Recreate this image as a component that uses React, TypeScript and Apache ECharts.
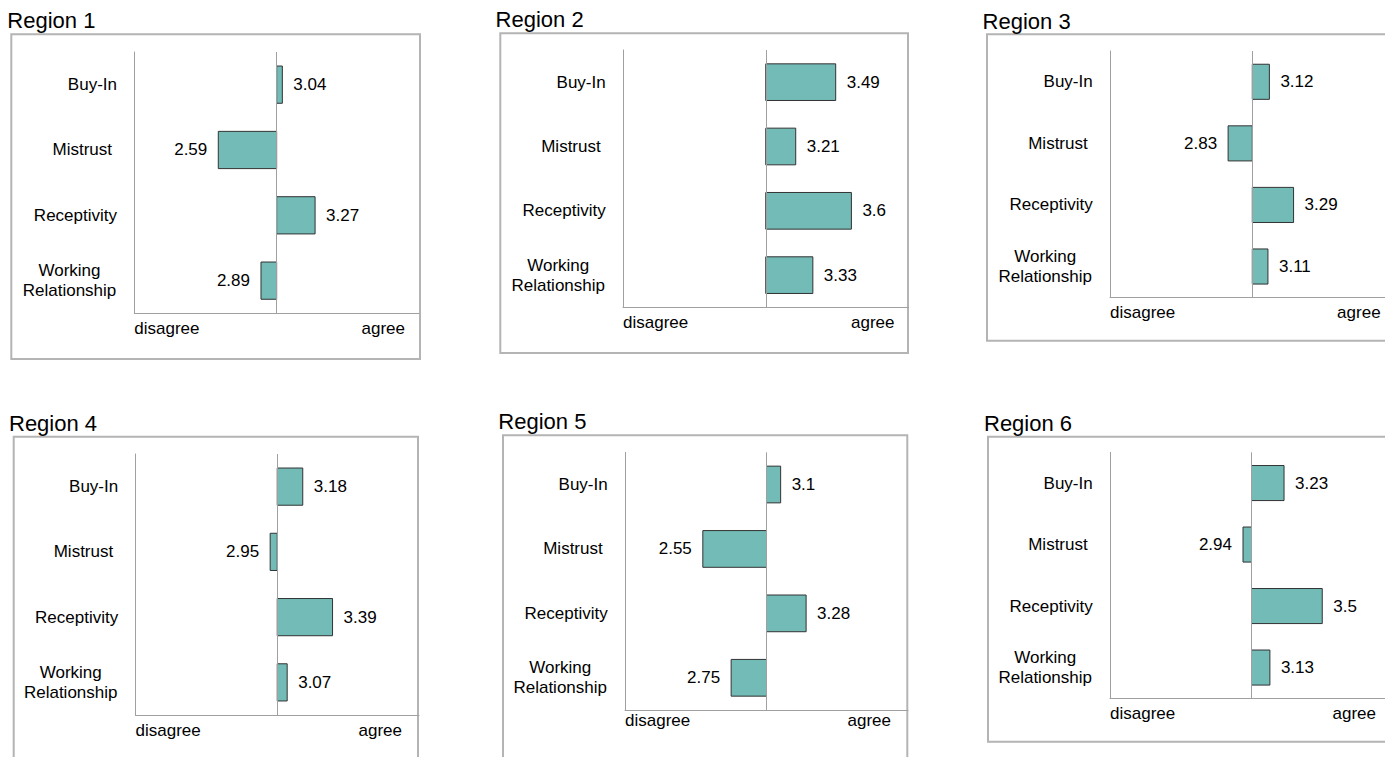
import React, { useEffect, useRef } from 'react';
import * as echarts from 'echarts';

// Survey dimensions, shown top to bottom in every panel
const categories = ['Buy-In', 'Mistrust', 'Receptivity', 'Working Relationship'];
const regionTitles = ['Region 1', 'Region 2', 'Region 3', 'Region 4', 'Region 5', 'Region 6'];

// Mean scores per region (1–5 scale, midpoint 3)
const region1Scores = [3.04, 2.59, 3.27, 2.89];
const region2Scores = [3.49, 3.21, 3.6, 3.33];
const region3Scores = [3.12, 2.83, 3.29, 3.11];
const region4Scores = [3.18, 2.95, 3.39, 3.07];
const region5Scores = [3.1, 2.55, 3.28, 2.75];
const region6Scores = [3.23, 2.94, 3.5, 3.13];

// Value axis: bars diverge from the neutral midpoint
const scaleMin = 2;
const scaleMid = 3;
const scaleMax = 4;
const scaleEndLabels = ['disagree', 'agree'];

const allScores = [region1Scores, region2Scores, region3Scores, region4Scores, region5Scores, region6Scores];

const FONT = '"Liberation Sans", Arial, Helvetica, sans-serif';
const BAR_FILL = '#72bbb6';
const BAR_EDGE = '#333333';
const AXIS_GREY = '#a0a0a0';
const BOX_GREY = '#b4b4b4';
const BAR_RATIO = 0.57;

// The right-hand column runs past the visible page edge, so the canvas is wider than the view
const VIEW_W = 1385;
const VIEW_H = 757;
const CANVAS_W = 1420;

// Placement of each panel: frame, title and plotting area
const panelLayout = [
  { titleX: 7.3, titleY: 20.7, box: [11.3, 34.3, 408.7, 324.7], grid: { left: 134.3, top: 52, width: 284.7, height: 261.3 }, labelGap: 6.6, agreeInset: 14 },
  { titleX: 495.6, titleY: 19.1, box: [500.3, 33.3, 407.7, 319.7], grid: { left: 623, top: 50, width: 285.5, height: 257.3 }, labelGap: 6.6, agreeInset: 14 },
  { titleX: 982.6, titleY: 21.4, box: [987, 34.3, 420, 306.4], grid: { left: 1110, top: 51, width: 284.6, height: 246.3 }, labelGap: 6.6, agreeInset: 14 },
  { titleX: 9, titleY: 423.4, box: [13.7, 436.7, 404.3, 340], grid: { left: 135.5, top: 454, width: 283.5, height: 261 }, labelGap: 7.3, agreeInset: 17 },
  { titleX: 498.3, titleY: 421.7, box: [503, 435.3, 404.3, 340], grid: { left: 625, top: 452.3, width: 283, height: 257.7 }, labelGap: 2.3, agreeInset: 17 },
  { titleX: 984, titleY: 423.1, box: [988, 436.7, 420, 305], grid: { left: 1110, top: 452.3, width: 283, height: 246 }, labelGap: 6.6, agreeInset: 17 },
];

function categoryLabel(name: string) {
  if (name === 'Working Relationship') return '{wrap|Working}\n{wrap|Relationship}';
  if (name === 'Mistrust') return `{pad|${name}}`;
  return name;
}

function renderDivergingBar(params: any, api: any) {
  const value = api.value(0);
  const cat = api.value(1);
  const start = api.coord([scaleMid, cat]);
  const end = api.coord([value, cat]);
  const band = api.size([0, 1])[1];
  const h = band * BAR_RATIO;
  const positive = value >= scaleMid;
  return {
    type: 'group',
    children: [
      {
        type: 'rect',
        shape: {
          x: Math.min(start[0], end[0]),
          y: start[1] - h / 2,
          width: Math.abs(end[0] - start[0]),
          height: h,
        },
        style: { fill: BAR_FILL, stroke: BAR_EDGE, lineWidth: 1 },
      },
      {
        type: 'text',
        x: end[0] + (positive ? 11 : -11),
        y: start[1],
        style: {
          text: String(value),
          align: positive ? 'left' : 'right',
          verticalAlign: 'middle',
          fontSize: 17,
          fontFamily: FONT,
          fill: '#000',
        },
      },
    ],
  };
}

function buildOption() {
  const grid = panelLayout.map((p) => ({ ...p.grid, show: false, containLabel: false }));

  const xAxis = panelLayout.map((p, i) => ({
    type: 'value',
    gridIndex: i,
    min: scaleMin,
    max: scaleMax,
    interval: scaleMax - scaleMin,
    axisLine: { show: true, onZero: false, lineStyle: { color: AXIS_GREY, width: 1 } },
    axisTick: { show: false },
    splitLine: { show: false },
    axisLabel: {
      show: true,
      margin: p.labelGap,
      fontSize: 17,
      fontFamily: FONT,
      color: '#000',
      showMinLabel: true,
      showMaxLabel: true,
      alignMinLabel: 'left',
      alignMaxLabel: 'right',
      formatter: (v: number) =>
        v === scaleMin ? scaleEndLabels[0] : v === scaleMax ? `{end|${scaleEndLabels[1]}}` : '',
      rich: {
        end: { fontSize: 17, fontFamily: FONT, color: '#000', padding: [0, p.agreeInset, 0, 0] },
      },
    },
  }));

  const yAxis = panelLayout.map((p, i) => ({
    type: 'category',
    gridIndex: i,
    data: categories,
    inverse: true,
    axisLine: { show: true, onZero: false, lineStyle: { color: AXIS_GREY, width: 1 } },
    axisTick: { show: false },
    splitLine: { show: false },
    axisLabel: {
      margin: 17.3,
      fontSize: 17,
      fontFamily: FONT,
      color: '#000',
      formatter: categoryLabel,
      rich: {
        wrap: { width: 95, align: 'center', fontSize: 17, lineHeight: 20, fontFamily: FONT, color: '#000' },
        pad: { padding: [0, 5, 0, 0], fontSize: 17, fontFamily: FONT, color: '#000' },
      },
    },
  }));

  const series = allScores.map((scores, i) => ({
    type: 'custom',
    name: regionTitles[i],
    xAxisIndex: i,
    yAxisIndex: i,
    data: scores.map((v, k) => [v, k]),
    encode: { x: 0, y: 1 },
    renderItem: renderDivergingBar,
    markLine: {
      silent: true,
      symbol: ['none', 'none'],
      label: { show: false },
      lineStyle: { color: AXIS_GREY, width: 1, type: 'solid' },
      data: [{ xAxis: scaleMid }],
    },
  }));

  const frames = panelLayout.map((p) => ({
    type: 'rect',
    silent: true,
    z: -1,
    shape: { x: p.box[0], y: p.box[1], width: p.box[2], height: p.box[3] },
    style: { fill: 'none', stroke: BOX_GREY, lineWidth: 2 },
  }));

  const titles = panelLayout.map((p, i) => ({
    type: 'text',
    silent: true,
    x: p.titleX,
    y: p.titleY,
    style: {
      text: regionTitles[i],
      fontSize: 22,
      fontFamily: FONT,
      fill: '#000',
      verticalAlign: 'middle',
    },
  }));

  return {
    animation: false,
    backgroundColor: '#ffffff',
    grid,
    xAxis,
    yAxis,
    series,
    graphic: [...frames, ...titles],
  };
}

export default function App() {
  const ref = useRef<HTMLDivElement>(null);

  useEffect(() => {
    if (!ref.current) return;
    const chart = echarts.init(ref.current, null, { renderer: 'svg' });
    chart.setOption(buildOption() as any);
    return () => chart.dispose();
  }, []);

  return (
    <div
      style={{
        position: 'absolute',
        left: 0,
        top: 0,
        width: VIEW_W,
        height: VIEW_H,
        overflow: 'hidden',
        background: '#fff',
      }}
    >
      <div ref={ref} style={{ width: CANVAS_W, height: VIEW_H }} />
    </div>
  );
}
